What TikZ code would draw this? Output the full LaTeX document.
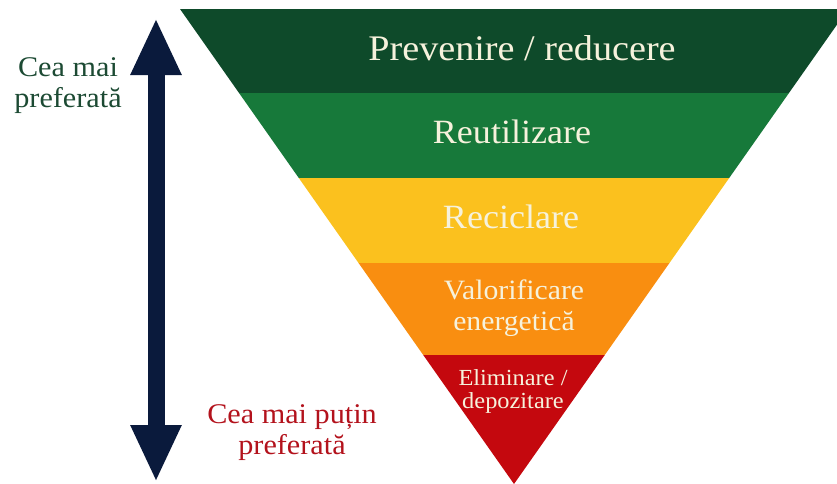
\documentclass[tikz,border=0pt]{standalone}
\usepackage{fontspec}
\setmainfont[FakeStretch=1.06]{Liberation Serif}
\usetikzlibrary{arrows.meta}
\definecolor{prevgreen}{HTML}{0E4A2A}
\definecolor{reusegreen}{HTML}{17793A}
\definecolor{recyellow}{HTML}{FBC11E}
\definecolor{valorange}{HTML}{F98E10}
\definecolor{elimred}{HTML}{C4080E}
\definecolor{arrownavy}{HTML}{0A1A3C}
\definecolor{bandtext}{HTML}{F6F2DC}
\definecolor{topgreen}{HTML}{1C4A33}
\definecolor{bottomred}{HTML}{B3121C}
\tikzset{
  bandlabel/.style={text=bandtext,align=center,anchor=base,inner sep=0pt},
  sidelabel/.style={align=center,anchor=base,inner sep=0pt,font=\fontsize{28.5}{31}\selectfont}
}
\begin{document}
\begin{tikzpicture}[x=1pt,y=-1pt,declare function={lx(\y)=180+0.703*(\y-9);rx(\y)=848-0.703*(\y-9);}]
\useasboundingbox (0,0) rectangle (837,483);
\clip (0,0) rectangle (837,483);
% band limits
\coordinate (l0) at ({lx(9)},9);
\coordinate (r0) at ({rx(9)},9);
\coordinate (l1) at ({lx(93)},93);
\coordinate (r1) at ({rx(93)},93);
\coordinate (l2) at ({lx(178)},178);
\coordinate (r2) at ({rx(178)},178);
\coordinate (l3) at ({lx(263)},263);
\coordinate (r3) at ({rx(263)},263);
\coordinate (l4) at ({lx(355)},355);
\coordinate (r4) at ({rx(355)},355);
\coordinate (apex) at (514,484);
\fill[prevgreen] (l0) -- (r0) -- (r1) -- (l1) -- cycle;
\fill[reusegreen] (l1) -- (r1) -- (r2) -- (l2) -- cycle;
\fill[recyellow] (l2) -- (r2) -- (r3) -- (l3) -- cycle;
\fill[valorange] (l3) -- (r3) -- (r4) -- (l4) -- cycle;
\fill[elimred] (l4) -- (r4) -- (apex) -- cycle;
% labels in the bands (base = last line)
\node[bandlabel,font=\fontsize{36}{40}\selectfont] (prev) at (522,60) {Prevenire / reducere};
\node[bandlabel,font=\fontsize{34}{38}\selectfont] (reuse) at (512,143) {Reutilizare};
\node[bandlabel,font=\fontsize{34}{38}\selectfont] (recycle) at (511,228) {Reciclare};
\node[bandlabel,font=\fontsize{28}{31}\selectfont] (energy) at (514,330) {Valorificare\\energetică};
\node[bandlabel,font=\fontsize{23}{23}\selectfont] (landfill) at (513,408) {Eliminare /\\depozitare};
% preference arrow
\coordinate (arrtop) at (156,18);
\coordinate (arrbot) at (156,482);
\draw[arrownavy,line width=17pt,{Triangle[width=47pt,length=57pt]}-{Triangle[width=47pt,length=57pt]}] (arrtop) -- (arrbot);
\node[sidelabel,text=topgreen] (most) at (68,107) {Cea mai\\preferată};
\node[sidelabel,text=bottomred] (least) at (292,454) {Cea mai puțin\\preferată};
\end{tikzpicture}
\end{document}
